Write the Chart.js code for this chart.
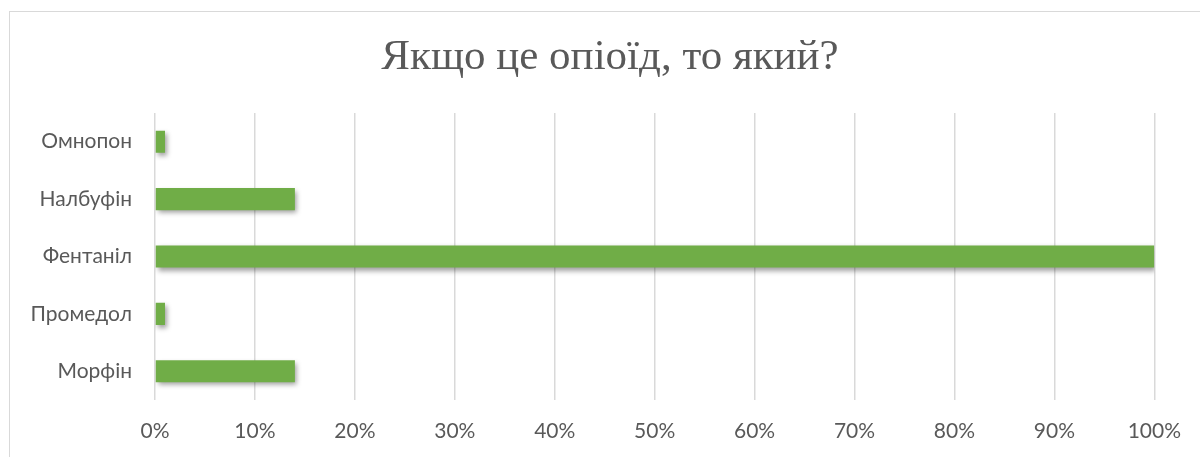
<!DOCTYPE html>
<html>
<head>
<meta charset="utf-8">
<script src="https://cdn.jsdelivr.net/npm/chart.js@4.4.1/dist/chart.umd.min.js"></script>
<style>
  html,body{margin:0;padding:0;background:#fff;}
  #wrap{position:relative;width:1200px;height:457px;overflow:hidden;}
  #frame{position:absolute;left:9px;top:11px;width:1300px;height:600px;border-top:1.5px solid #d9d9d9;border-left:1.5px solid #d9d9d9;box-sizing:border-box;}
  canvas{position:absolute;left:0;top:0;}
</style>
</head>
<body>
<div id="wrap">
  <div id="frame"></div>
  <canvas id="c" width="1200" height="457"></canvas>
</div>
<script>
const titleText = "Якщо це опіоїд, то який?";
const categories = ["Омнопон", "Налбуфін", "Фентаніл", "Промедол", "Морфін"];
const values = [1, 14, 100, 1, 14];
const tickMax = 100;
const tickStep = 10;

const barShadow = {
  id: 'barShadow',
  beforeDatasetsDraw(chart) {
    const ctx = chart.ctx;
    ctx.save();
    ctx.shadowColor = 'rgba(0,0,0,0.38)';
    ctx.shadowBlur = 5;
    ctx.shadowOffsetX = 2;
    ctx.shadowOffsetY = 3;
  },
  afterDatasetsDraw(chart) {
    chart.ctx.restore();
  }
};

const titleDraw = {
  id: 'titleDraw',
  afterDraw(chart) {
    const ctx = chart.ctx;
    ctx.save();
    ctx.fillStyle = '#595959';
    ctx.font = 'normal 43px "Liberation Serif"';
    ctx.textAlign = 'center';
    ctx.textBaseline = 'middle';
    ctx.fillText(titleText, 610, 58);
    ctx.restore();
  }
};

function barFill(context) {
  const chart = context.chart;
  const el = context.element;
  if (!el || el.y === undefined || !chart.chartArea) return '#70ad47';
  const h = el.height || 22;
  const g = chart.ctx.createLinearGradient(0, el.y - h / 2, 0, el.y + h / 2);
  g.addColorStop(0, '#7db75a');
  g.addColorStop(0.5, '#70ad47');
  g.addColorStop(1, '#65a23c');
  return g;
}

new Chart(document.getElementById('c'), {
  type: 'bar',
  data: {
    labels: categories,
    datasets: [{
      data: values,
      backgroundColor: barFill,
      borderWidth: 0,
      barPercentage: 0.385,
      categoryPercentage: 1.0
    }]
  },
  plugins: [barShadow, titleDraw],
  options: {
    indexAxis: 'y',
    responsive: false,
    animation: false,
    devicePixelRatio: 1,
    layout: { padding: { left: 0, right: 45, top: 113, bottom: 0 } },
    plugins: {
      legend: { display: false },
      tooltip: { enabled: false },
      title: { display: false }
    },
    scales: {
      x: {
        min: 0,
        max: tickMax,
        ticks: {
          stepSize: tickStep,
          color: '#595959',
          font: { family: 'Lato', size: 21 },
          padding: 19,
          callback: v => v + '%'
        },
        grid: { color: '#d9d9d9', lineWidth: 1.5, drawTicks: false },
        border: { display: false },
        afterFit(scale) { scale.height = 57; }
      },
      y: {
        ticks: {
          color: '#595959',
          font: { family: 'Lato', size: 21 },
          padding: 23
        },
        grid: { display: false, drawTicks: false },
        border: { display: false },
        afterFit(scale) { scale.width = 155; }
      }
    }
  }
});
</script>
</body>
</html>
